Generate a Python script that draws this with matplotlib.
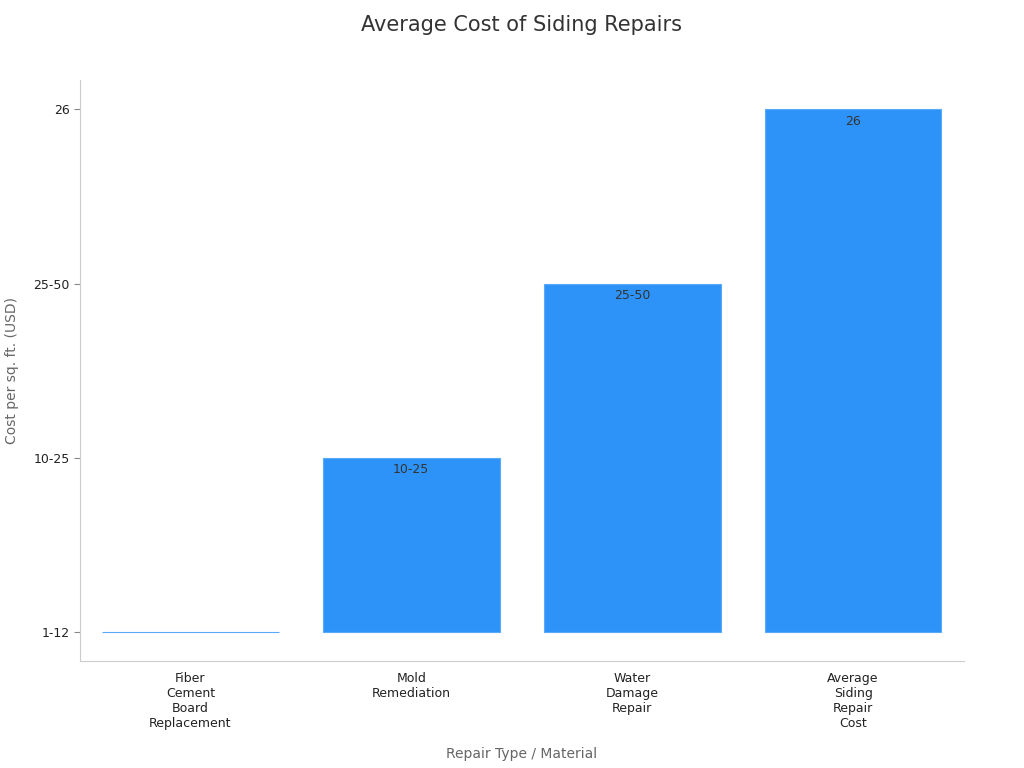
import matplotlib.pyplot as plt

# Data
categories = ['Fiber\nCement\nBoard\nReplacement', 'Mold\nRemediation', 'Water\nDamage\nRepair', 'Average\nSiding\nRepair\nCost']
cost_labels = ['1-12', '10-25', '25-50', '26']
# each bar's value is the index of its cost label on the categorical y axis
values = [0, 1, 2, 3]
bar_text = ['1-12', '10-25', '25-50', '26']

fig, ax = plt.subplots(figsize=(10.24, 7.68), dpi=100)
fig.subplots_adjust(left=0.078, right=0.941, top=0.896, bottom=0.139)

x = list(range(len(categories)))
ax.bar(x, values, width=0.8, color='#2e93f8', edgecolor='#5aa9f8', linewidth=0.8)

for xi, v, t in zip(x, values, bar_text):
    if v > 0:
        ax.text(xi, v - 0.03, t, ha='center', va='top', fontsize=9, color='#333333')

ax.set_xlim(-0.5, 3.5)
ax.set_ylim(-0.17, 3.17)
ax.set_xticks(x)
ax.set_xticklabels(categories, fontsize=9, color='#222222')
ax.set_yticks(range(len(cost_labels)))
ax.set_yticklabels(cost_labels, fontsize=9, color='#222222')
ax.tick_params(axis='x', length=0, pad=8)
ax.tick_params(axis='y', length=4, color='#888888')

for s in ['top', 'right']:
    ax.spines[s].set_visible(False)
for s in ['left', 'bottom']:
    ax.spines[s].set_color('#cccccc')

ax.set_title('Average Cost of Siding Repairs', fontsize=15, color='#333333', pad=35)
ax.set_xlabel('Repair Type / Material', fontsize=10, color='#666666', labelpad=12)
ax.set_ylabel('Cost per sq. ft. (USD)', fontsize=10, color='#666666', labelpad=10)

fig.savefig('out.png', dpi=100)
